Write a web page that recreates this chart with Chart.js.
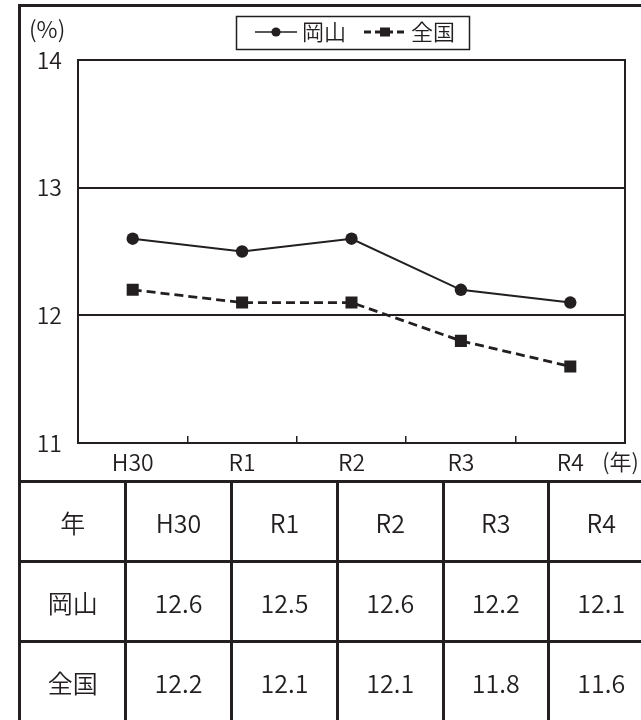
<!DOCTYPE html>
<html><head><meta charset="utf-8">
<script src="https://cdn.jsdelivr.net/npm/chart.js@4"></script>
<style>
html,body{margin:0;padding:0;background:#fff;}
#wrap{position:relative;width:641px;height:720px;overflow:hidden;background:#fff;}
#c{position:absolute;left:0;top:0;}
.ln{position:absolute;background:#231f20;}
.cell{position:absolute;display:flex;align-items:center;justify-content:center;font-family:'Noto Sans CJK JP',sans-serif;font-weight:350;font-size:25px;color:#231f20;white-space:nowrap;}
</style></head><body>
<div id="wrap"><canvas id="c" width="641" height="482"></canvas></div>
<script>
// ---- data ----
const categories = ['H30', 'R1', 'R2', 'R3', 'R4'];
const okayama = [12.6, 12.5, 12.6, 12.2, 12.1];
const national = [12.2, 12.1, 12.1, 11.8, 11.6];
const seriesNames = ['岡山', '全国'];
const yTicks = [11, 12, 13, 14];
const yUnit = '(%)';
const xUnit = '(年)';
const tableCorner = '年';

const INK = '#231f20';
const LATIN = "'Noto Sans CJK JP', sans-serif";
const CJK = "'Noto Sans CJK JP', sans-serif";
const W = '350';

// legend icons (line + marker)
function makeIcon(kind) {
  const cv = document.createElement('canvas');
  cv.width = 48; cv.height = 16;
  const g = cv.getContext('2d');
  g.fillStyle = INK; g.strokeStyle = INK;
  if (kind === 'circle') {
    g.lineWidth = 1.6;
    g.beginPath(); g.moveTo(6, 8); g.lineTo(48, 8); g.stroke();
    g.beginPath(); g.arc(27, 8, 4.6, 0, Math.PI * 2); g.fill();
  } else {
    g.lineWidth = 3;
    g.setLineDash([7, 4]);
    g.beginPath(); g.moveTo(6, 8); g.lineTo(48, 8); g.stroke();
    g.fillRect(22, 3.5, 10, 9);
  }
  return cv;
}
const legendIcons = [makeIcon('circle'), makeIcon('rect')];

const extras = {
  id: 'extras',
  beforeLayout(chart) {
    const lg = chart.legend;
    if (lg && !lg.__wrapped) {
      const f = lg.fit;
      lg.fit = function () { f.apply(this, arguments); this.height += 7; };
      lg.__wrapped = true;
    }
  },
  afterLayout(chart) {
    const lg = chart.legend;
    if (lg) { lg.left += 3.5; lg.right += 3.5; }
  },
  beforeDatasetsDraw(chart) {
    const {ctx, chartArea: a} = chart;
    ctx.save();
    ctx.strokeStyle = INK; ctx.lineWidth = 2;
    ctx.strokeRect(a.left, a.top, a.right - a.left, a.bottom - a.top);
    ctx.restore();
  },
  afterDraw(chart) {
    const {ctx} = chart;
    const lg = chart.legend;
    ctx.save();
    if (lg && lg.legendHitBoxes && lg.legendHitBoxes.length) {
      const hb = lg.legendHitBoxes;
      const last = hb[hb.length - 1];
      const l = hb[0].left - 19, r = last.left + last.width + 14;
      const t = hb[0].top - 5, b = hb[0].top + hb[0].height + 6;
      ctx.strokeStyle = INK; ctx.lineWidth = 1.5;
      ctx.strokeRect(Math.round(l) + 0.5, Math.round(t) + 0.5, Math.round(r - l), Math.round(b - t));
    }
    ctx.fillStyle = INK;
    ctx.textBaseline = 'middle';
    ctx.textAlign = 'left';
    const ys = chart.scales.y, xs = chart.scales.x;
    ctx.font = W + ' 23px ' + CJK;
    ctx.fillText(yUnit, 29, ys.top - 31);
    ctx.font = W + ' 22px ' + CJK;
    ctx.fillText(xUnit, xs.getPixelForValue(categories.length - 1) + 32, xs.top + 19);
    ctx.restore();
  }
};

new Chart(document.getElementById('c'), {
  type: 'line',
  data: {
    labels: categories,
    datasets: [
      {
        label: seriesNames[0], data: okayama,
        borderColor: INK, backgroundColor: INK, borderWidth: 2,
        pointStyle: 'circle', pointRadius: 6.2, pointBorderWidth: 0,
        pointBackgroundColor: INK, tension: 0
      },
      {
        label: seriesNames[1], data: national,
        borderColor: INK, backgroundColor: INK, borderWidth: 2.8, borderDash: [9, 5],
        pointStyle: 'rect', pointRadius: 8.5, pointBorderWidth: 0,
        pointBackgroundColor: INK, tension: 0
      }
    ]
  },
  options: {
    responsive: false,
    devicePixelRatio: 1,
    animation: false,
    events: [],
    layout: {padding: {left: 0, right: 16, top: 3, bottom: 0}},
    plugins: {
      tooltip: {enabled: false},
      legend: {
        position: 'top', fullSize: false,
        labels: {
          usePointStyle: true, pointStyleWidth: 36, padding: 18,
          color: INK, font: {family: CJK, size: 22, weight: W},
          generateLabels(chart) {
            const items = Chart.defaults.plugins.legend.labels.generateLabels(chart);
            items.forEach((it, i) => { it.pointStyle = legendIcons[i]; it.fontColor = INK; });
            return items;
          }
        }
      }
    },
    scales: {
      x: {
        offset: true,
        border: {display: false},
        grid: {offset: true, drawOnChartArea: false, drawTicks: true, tickLength: -7, color: INK, lineWidth: 1.5},
        ticks: {color: INK, font: {family: LATIN, size: 23, weight: W}, padding: 12, maxRotation: 0, autoSkip: false},
        afterFit(s) { s.height = 39; }
      },
      y: {
        min: 11, max: 14,
        border: {display: false},
        grid: {drawTicks: false, color: INK, lineWidth: 2},
        ticks: {color: INK, font: {family: LATIN, size: 23, weight: W}, padding: 16},
        afterBuildTicks(s) { s.ticks = yTicks.map(v => ({value: v})); },
        afterFit(s) { s.width = 78; }
      }
    }
  },
  plugins: [extras]
});

// ---- table below the chart ----
const wrap = document.getElementById('wrap');
function line(l, t, w, h) {
  const d = document.createElement('div');
  d.className = 'ln';
  d.style.left = l + 'px'; d.style.top = t + 'px'; d.style.width = w + 'px'; d.style.height = h + 'px';
  wrap.appendChild(d);
}
function cell(text, cx, cy) {
  const d = document.createElement('div');
  d.className = 'cell';
  d.style.left = (cx - 60) + 'px'; d.style.top = (cy - 30) + 'px';
  d.style.width = '120px'; d.style.height = '60px';
  d.textContent = text;
  wrap.appendChild(d);
}
// outer frame
line(18, 4, 623, 3);
line(18, 4, 3, 716);
// table rows
const rowEdges = [480, 560, 640, 720];
line(18, rowEdges[0], 623, 3);
line(18, rowEdges[1], 623, 3);
line(18, rowEdges[2], 623, 3);
// table columns
const colEdges = [20, 125.5, 231.5, 337.5, 443, 548.5, 654];
for (let i = 1; i < colEdges.length - 1; i++) line(Math.round(colEdges[i] - 1.5), rowEdges[0], 3, 720 - rowEdges[0]);
const rows = [[tableCorner].concat(categories), [seriesNames[0]].concat(okayama.map(v => v.toFixed(1))), [seriesNames[1]].concat(national.map(v => v.toFixed(1)))];
rows.forEach((r, ri) => {
  const cy = (rowEdges[ri] + rowEdges[ri + 1]) / 2 + 1.5;
  r.forEach((t, ci) => {
    const cx = (colEdges[ci] + colEdges[ci + 1]) / 2;
    cell(t, cx, cy);
  });
});
</script>
</body></html>
